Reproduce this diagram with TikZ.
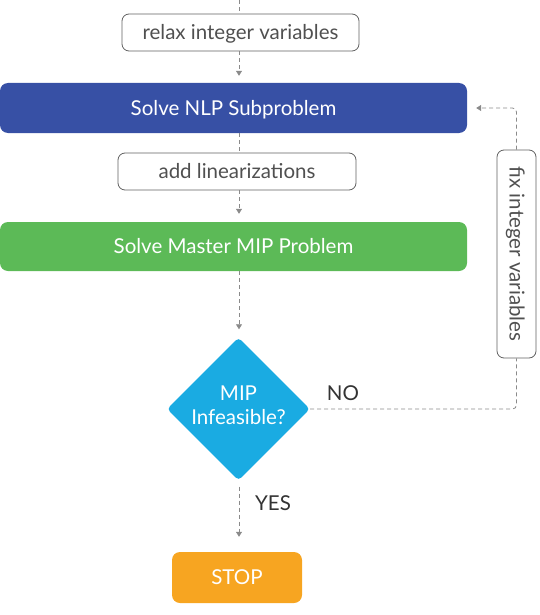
\documentclass[tikz,border=0pt]{standalone}
\usepackage{fontspec}
\setmainfont{Lato}
\usetikzlibrary{shapes.geometric,arrows.meta}
\definecolor{nlpblue}{HTML}{3750A5}
\definecolor{mipgreen}{HTML}{5CBA57}
\definecolor{diacyan}{HTML}{1AABE2}
\definecolor{stoporange}{HTML}{F7A521}
\definecolor{linegray}{HTML}{8A8A8A}
\definecolor{txtgray}{HTML}{505050}
\tikzset{
  x=1pt,y=1pt,
  labelbox/.style={draw=txtgray!90,line width=0.8pt,rounded corners=7pt,fill=white,text=txtgray,inner sep=0pt,text height=14pt,text depth=0pt,font=\fontsize{20.5}{24}\selectfont},
  solid box/.style={rounded corners=8pt,text=white,inner sep=0pt,text height=14pt,text depth=0pt,font=\fontsize{20.5}{24}\selectfont},
  conn/.style={draw=linegray,line width=0.8pt,dash pattern=on 4pt off 3pt},
  arr/.style={conn,-{Triangle[width=6pt,length=5pt]}},
  lbl/.style={text=black!80,font=\fontsize{20.5}{24}\selectfont,inner sep=0pt}
}
\begin{document}
\begin{tikzpicture}
\useasboundingbox (0,0) rectangle (539,-615);
\coordinate (top) at (239,0);
\node[labelbox,minimum width=237pt,minimum height=37pt] (relax) at (240.5,-32.5) {relax integer variables};
\node[solid box,fill=nlpblue,minimum width=467pt,minimum height=50pt] (nlp) at (233.5,-108) {Solve NLP Subproblem};
\node[labelbox,minimum width=238pt,minimum height=37pt] (add) at (237,-171.5) {add linearizations};
\node[solid box,fill=mipgreen,minimum width=467pt,minimum height=49pt] (mip) at (233.5,-246.5) {Solve Master MIP Problem};
\node[diamond,aspect=1,fill=diacyan,minimum width=143pt,minimum height=143pt,inner sep=0pt,rounded corners=4pt] (dia) at (238.5,-409) {};
\node[text=white,align=center,inner sep=0pt,font=\fontsize{20.5}{24}\selectfont] (diatext) at (238.5,-405) {MIP\\Infeasible?};
\node[labelbox,rotate=-90,minimum width=208pt,minimum height=39pt] (fix) at (516.5,-254) {fix integer variables};
\node[solid box,fill=stoporange,minimum width=130pt,minimum height=51pt] (stop) at (237,-577.5) {STOP};
\node[lbl] (no) at (343,-393) {NO};
\node[lbl] (yes) at (273,-503) {YES};
\draw[conn] (top) -- (relax.north -| top);
\draw[arr,shorten >=7pt] (relax.south -| top) -- (nlp.north -| top);
\draw[conn] (nlp.south -| top) -- (add.north -| top);
\draw[arr,shorten >=8pt] (add.south -| top) -- (mip.north -| top);
\draw[arr,shorten >=8pt] (mip.south -| top) -- (dia.north -| top);
\draw[arr,shorten <=6pt,shorten >=15pt] (dia.south -| top) -- (stop.north -| top);
\draw[conn,rounded corners=4pt] (dia.east) -| (fix);
\draw[arr,rounded corners=4pt,shorten >=9pt] (fix) |- (nlp.east);
\end{tikzpicture}
\end{document}
